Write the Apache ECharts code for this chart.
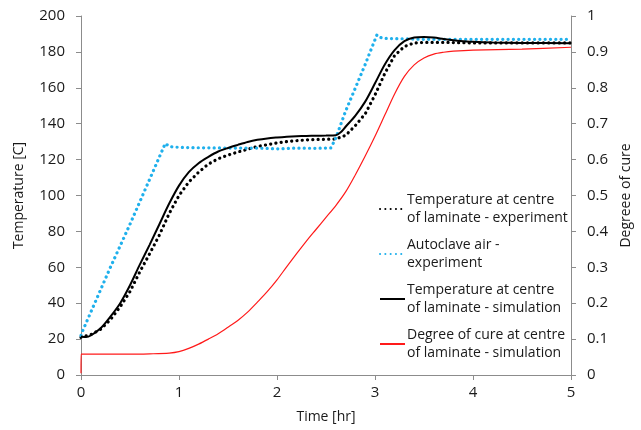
<!DOCTYPE html>
<html>
<head>
<meta charset="utf-8">
<script src="https://cdn.jsdelivr.net/npm/echarts@6/dist/echarts.min.js"></script>
<style>html,body{margin:0;padding:0;background:#fff}#c{width:641px;height:430px}</style>
</head>
<body>
<div id="c"></div>
<script>
// Time [hr], Temperature [C]
const expTime = [0,0.1,0.2,0.3,0.4,0.5,0.6,0.7,0.8,0.9,1.0,1.1,1.2,1.3,1.4,1.5,1.6,1.7,1.8,1.9,2.0,2.1,2.2,2.3,2.4,2.5,2.6,2.7,2.8,2.9,3.0,3.1,3.2,3.3,3.4,3.5,3.7,4.0,4.5,5.0];
const expTemp = [21,22.5,25.5,30.8,38,46.5,57.5,67.5,78,90,100,107.5,113,117.5,120.5,122.5,124.2,125.8,127.3,128.3,129.3,130,130.5,131,131.2,131.3,131.5,133.5,139,145.5,156,168,178,183,185,185.3,185.3,185,185,185];

const airTime = [0,0.02,0.1,0.2,0.3,0.4,0.5,0.6,0.7,0.8,0.86,0.9,0.95,1.0,1.2,1.4,1.6,1.8,2.0,2.2,2.4,2.55,2.6,2.7,2.8,2.9,2.95,3.02,3.06,3.1,3.3,3.5,4.0,4.5,5.0];
const airTemp = [22,25,35,47.5,60,72,84,96.5,109,121.5,129,127.3,127,126.8,126.6,126.5,126.4,126.4,126,126.4,126.3,126.5,132,147,160,173,180,189.5,188,187.5,187.3,187,187,187,187];

const simTime = [0,0.05,0.1,0.2,0.3,0.4,0.5,0.6,0.7,0.8,0.9,1.0,1.1,1.2,1.3,1.4,1.5,1.6,1.7,1.8,1.9,2.0,2.1,2.2,2.3,2.4,2.5,2.6,2.65,2.7,2.8,2.9,3.0,3.1,3.2,3.3,3.4,3.5,3.6,3.7,3.8,3.9,4.0,4.2,4.5,5.0];
const simTemp = [21.5,21.2,22,26,32.5,40,50,61.5,72.5,84,95.5,105.5,113,118,121.5,124.5,126.5,128.2,129.8,131,131.8,132.3,132.7,133,133.2,133.3,133.4,133.6,135.2,138.3,144.5,152.3,162.5,173,181,186,188,188.3,188,187.2,186.5,186,185.6,185.2,185,184.8];

// Degree of cure (right axis)
const cureTime = [0,0.001,0.5,0.7,0.9,1.0,1.1,1.2,1.3,1.4,1.5,1.6,1.7,1.8,1.9,2.0,2.1,2.2,2.3,2.4,2.5,2.6,2.7,2.8,2.9,3.0,3.1,3.2,3.3,3.4,3.5,3.6,3.7,3.8,4.0,4.5,5.0];
const cureVal = [0.005,0.058,0.058,0.059,0.061,0.065,0.074,0.086,0.1,0.115,0.133,0.152,0.175,0.203,0.232,0.265,0.302,0.338,0.373,0.406,0.439,0.472,0.51,0.558,0.61,0.665,0.724,0.783,0.832,0.864,0.883,0.894,0.899,0.902,0.905,0.908,0.913];

const seriesNames = ['Temperature at centre\nof laminate - experiment','Autoclave air -\nexperiment','Temperature at centre\nof laminate - simulation','Degree of cure at centre\nof laminate - simulation'];

const zip = (a, b) => a.map((v, i) => [v, b[i]]);
const FONT = 'Open Sans';
const axisGray = '#8c8c8c';
const txt = '#1a1a1a';

const chart = echarts.init(document.getElementById('c'), null, {renderer: 'canvas'});
chart.setOption({
  animation: false,
  backgroundColor: '#fff',
  textStyle: {fontFamily: FONT},
  grid: {left: 81, right: 69, top: 16, bottom: 55},
  legend: {
    orient: 'vertical',
    left: 379,
    top: 182,
    padding: 0,
    itemWidth: 25,
    itemHeight: 14,
    itemGap: -9,
    selectedMode: false,
    itemStyle: {opacity: 0},
    textStyle: {fontFamily: FONT, fontSize: 14, color: txt, lineHeight: 18, padding: [18, 0, 0, -3]},
    data: seriesNames
  },
  xAxis: {
    type: 'value', min: 0, max: 5, interval: 1,
    name: 'Time [hr]', nameLocation: 'middle', nameGap: 35,
    nameTextStyle: {fontFamily: FONT, fontSize: 14, color: txt},
    axisLine: {lineStyle: {color: axisGray}},
    axisTick: {show: true, length: 5, lineStyle: {color: axisGray}},
    splitLine: {show: false},
    axisLabel: {fontFamily: FONT, fontSize: 15, color: txt, margin: 10}
  },
  yAxis: [{
    type: 'value', min: 0, max: 200, interval: 20, position: 'left',
    name: 'Temperature [C]', nameLocation: 'middle', nameGap: 55,
    nameTextStyle: {fontFamily: FONT, fontSize: 14, color: txt},
    axisLine: {show: true, lineStyle: {color: axisGray}},
    axisTick: {show: true, length: 5, lineStyle: {color: axisGray}},
    splitLine: {show: false},
    axisLabel: {fontFamily: FONT, fontSize: 15, color: txt, margin: 16}
  }, {
    type: 'value', min: 0, max: 1, interval: 0.1, position: 'right',
    name: 'Degreee of cure', nameLocation: 'middle', nameGap: 46,
    nameRotate: 90,
    nameTextStyle: {fontFamily: FONT, fontSize: 14, color: txt},
    axisLine: {show: true, lineStyle: {color: axisGray}},
    axisTick: {show: true, length: 5, lineStyle: {color: axisGray}},
    splitLine: {show: false},
    axisLabel: {fontFamily: FONT, fontSize: 15, color: txt, margin: 16}
  }],
  series: [{
    name: seriesNames[0], type: 'line', yAxisIndex: 0, showSymbol: false, symbol: 'none',
    data: zip(expTime, expTemp),
    lineStyle: {color: '#000', width: 3.2, type: [0.1, 5.2], cap: 'round'},
    itemStyle: {color: '#000'}
  }, {
    name: seriesNames[1], type: 'line', yAxisIndex: 0, showSymbol: false, symbol: 'none',
    data: zip(airTime, airTemp),
    lineStyle: {color: '#1fb0ec', width: 3.2, type: [0.1, 5.2], cap: 'round'},
    itemStyle: {color: '#1fb0ec'}
  }, {
    name: seriesNames[2], type: 'line', yAxisIndex: 0, showSymbol: false, symbol: 'none', smooth: 0.3,
    data: zip(simTime, simTemp),
    lineStyle: {color: '#000', width: 2},
    itemStyle: {color: '#000'}
  }, {
    name: seriesNames[3], type: 'line', yAxisIndex: 1, showSymbol: false, symbol: 'none', smooth: 0.3,
    data: zip(cureTime, cureVal),
    lineStyle: {color: '#ff1a1a', width: 1.2},
    itemStyle: {color: '#ff1a1a'}
  }]
});
</script>
</body>
</html>
